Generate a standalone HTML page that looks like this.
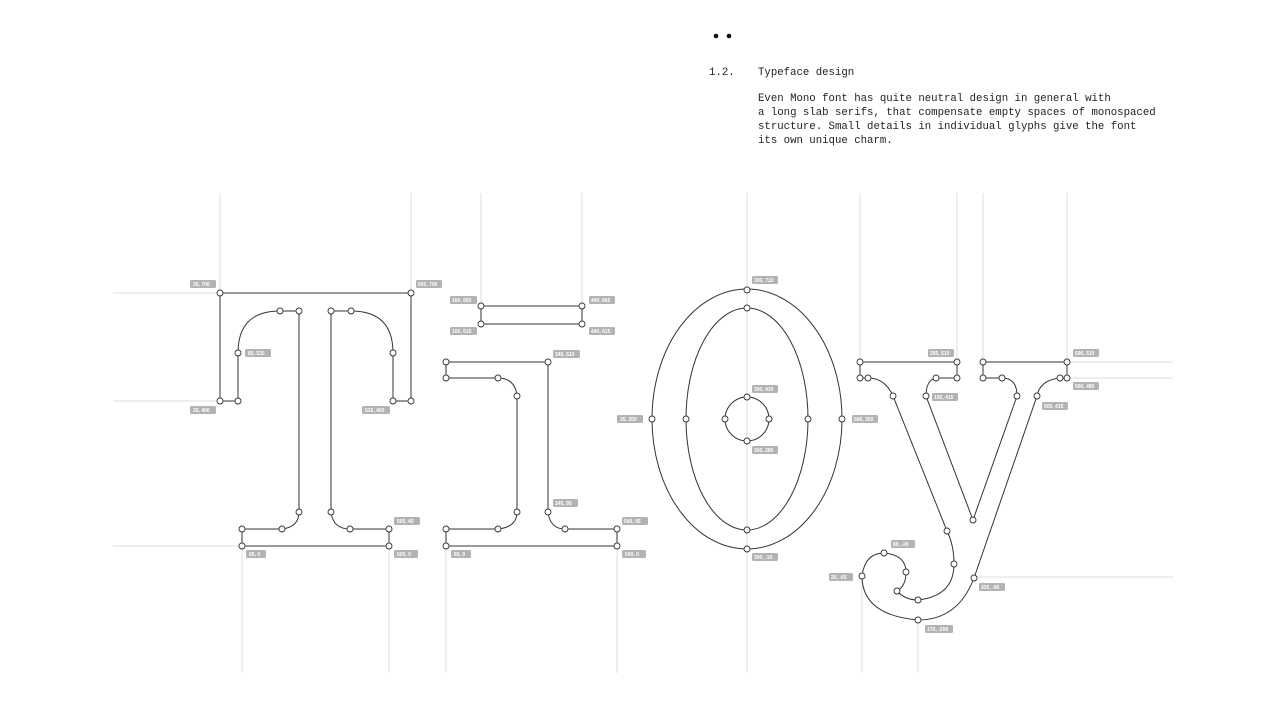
<!DOCTYPE html>
<html><head><meta charset="utf-8"><style>
html,body{margin:0;padding:0;background:#fff;width:1280px;height:720px;overflow:hidden}
svg{position:absolute;left:0;top:0}
.t{font-family:"Liberation Mono",monospace;font-size:10.7px;fill:#222}
.lb{font-family:"Liberation Sans",sans-serif;font-size:5px;fill:#fff;font-weight:bold}
</style></head><body>
<svg width="1280" height="720" viewBox="0 0 1280 720">
<circle cx="716" cy="36" r="2.3" fill="#111"/><circle cx="729" cy="36" r="2.3" fill="#111"/>
<text class="t" x="709" y="75">1.2.</text>
<text class="t" x="758" y="75">Typeface design</text>
<text class="t" x="758" y="101">Even Mono font has quite neutral design in general with</text>
<text class="t" x="758" y="115">a long slab serifs, that compensate empty spaces of monospaced</text>
<text class="t" x="758" y="129">structure. Small details in individual glyphs give the font</text>
<text class="t" x="758" y="143">its own unique charm.</text>

<g stroke="#dcdcdc" stroke-width="1">
<line x1="220" y1="193" x2="220" y2="293"/><line x1="411" y1="193" x2="411" y2="293"/>
<line x1="481" y1="193" x2="481" y2="306"/><line x1="582" y1="193" x2="582" y2="306"/>
<line x1="747" y1="193" x2="747" y2="673"/>
<line x1="860" y1="193" x2="860" y2="362"/><line x1="957" y1="193" x2="957" y2="362"/>
<line x1="983" y1="193" x2="983" y2="362"/><line x1="1067" y1="193" x2="1067" y2="362"/>
<line x1="242" y1="546" x2="242" y2="673"/><line x1="389" y1="546" x2="389" y2="673"/>
<line x1="446" y1="546" x2="446" y2="673"/><line x1="617" y1="546" x2="617" y2="673"/>
<line x1="862" y1="576" x2="862" y2="673"/><line x1="918" y1="620" x2="918" y2="673"/>
<line x1="113" y1="293" x2="220" y2="293"/><line x1="113" y1="401" x2="220" y2="401"/>
<line x1="113" y1="546" x2="242" y2="546"/>
<line x1="1067" y1="362" x2="1173" y2="362"/><line x1="1067" y1="378" x2="1173" y2="378"/>
<line x1="974" y1="577" x2="1173" y2="577"/>
</g>

<g fill="none" stroke="#333" stroke-width="1">
<path d="M220 293 L411 293 L411 401 L393 401 L393 353 Q393 311 351 311 L331 311 L331 512 Q333 529 350 529 L389 529 L389 546 L242 546 L242 529 L282 529 Q299 527 299 512 L299 311 L280 311 Q238 311 238 353 L238 401 L220 401 Z"/>
<rect x="481" y="306" width="101" height="18"/>
<path d="M446 362 L548 362 L548 512 Q550 529 565 529 L617 529 L617 546 L446 546 L446 529 L498 529 Q517 527 517 512 L517 396 Q515 378 498 378 L446 378 Z"/>
<ellipse cx="747" cy="419" rx="95" ry="130"/>
<ellipse cx="747" cy="419" rx="61" ry="111"/>
<circle cx="747" cy="419" r="22"/>
<path d="M860 362 L957 362 L957 378 L936 378 Q926 380 926 396 L973 520 L1017 396 Q1017 378 1002 378 L983 378 L983 362 L1067 362 L1067 378 L1060 378 Q1040 380 1037 396 L974 578 Q958 620 918 620 Q862 615 862 576 Q865 553 884 553 Q906 555 906 572 Q906 586 897 591 Q905 600 918 600 Q954 596 954 564 Q954 545 947 531 L893 396 Q885 378 868 378 L860 378 Z"/>
</g>

<g fill="#fff" stroke="#333" stroke-width="0.9">
<circle cx="220" cy="293" r="3"/><circle cx="411" cy="293" r="3"/><circle cx="280" cy="311" r="3"/><circle cx="299" cy="311" r="3"/><circle cx="331" cy="311" r="3"/><circle cx="351" cy="311" r="3"/><circle cx="238" cy="353" r="3"/><circle cx="393" cy="353" r="3"/><circle cx="220" cy="401" r="3"/><circle cx="238" cy="401" r="3"/><circle cx="393" cy="401" r="3"/><circle cx="411" cy="401" r="3"/><circle cx="299" cy="512" r="3"/><circle cx="282" cy="529" r="3"/><circle cx="242" cy="529" r="3"/><circle cx="242" cy="546" r="3"/><circle cx="389" cy="529" r="3"/><circle cx="389" cy="546" r="3"/><circle cx="331" cy="512" r="3"/><circle cx="350" cy="529" r="3"/>
<circle cx="481" cy="306" r="3"/><circle cx="582" cy="306" r="3"/><circle cx="481" cy="324" r="3"/><circle cx="582" cy="324" r="3"/>
<circle cx="446" cy="362" r="3"/><circle cx="548" cy="362" r="3"/><circle cx="446" cy="378" r="3"/><circle cx="498" cy="378" r="3"/><circle cx="517" cy="396" r="3"/><circle cx="517" cy="512" r="3"/><circle cx="498" cy="529" r="3"/><circle cx="446" cy="529" r="3"/><circle cx="446" cy="546" r="3"/><circle cx="548" cy="512" r="3"/><circle cx="565" cy="529" r="3"/><circle cx="617" cy="529" r="3"/><circle cx="617" cy="546" r="3"/>
<circle cx="747" cy="290" r="3"/><circle cx="747" cy="549" r="3"/><circle cx="652" cy="419" r="3"/><circle cx="842" cy="419" r="3"/><circle cx="747" cy="308" r="3"/><circle cx="747" cy="530" r="3"/><circle cx="686" cy="419" r="3"/><circle cx="808" cy="419" r="3"/><circle cx="747" cy="397" r="3"/><circle cx="747" cy="441" r="3"/><circle cx="725" cy="419" r="3"/><circle cx="769" cy="419" r="3"/>
<circle cx="860" cy="362" r="3"/><circle cx="957" cy="362" r="3"/><circle cx="957" cy="378" r="3"/><circle cx="936" cy="378" r="3"/><circle cx="926" cy="396" r="3"/><circle cx="973" cy="520" r="3"/><circle cx="1017" cy="396" r="3"/><circle cx="1002" cy="378" r="3"/><circle cx="983" cy="378" r="3"/><circle cx="983" cy="362" r="3"/><circle cx="1067" cy="362" r="3"/><circle cx="1067" cy="378" r="3"/><circle cx="1060" cy="378" r="3"/><circle cx="1037" cy="396" r="3"/><circle cx="974" cy="578" r="3"/><circle cx="918" cy="620" r="3"/><circle cx="862" cy="576" r="3"/><circle cx="884" cy="553" r="3"/><circle cx="906" cy="572" r="3"/><circle cx="897" cy="591" r="3"/><circle cx="918" cy="600" r="3"/><circle cx="954" cy="564" r="3"/><circle cx="947" cy="531" r="3"/><circle cx="893" cy="396" r="3"/><circle cx="868" cy="378" r="3"/><circle cx="860" cy="378" r="3"/>
</g>

<g>
<g fill="#b3b3b3">
<rect x="190" y="280" width="26" height="8" rx="1.5"/><rect x="416" y="280" width="26" height="8" rx="1.5"/>
<rect x="245" y="349" width="26" height="8" rx="1.5"/><rect x="190" y="406" width="26" height="8" rx="1.5"/>
<rect x="362" y="406" width="28" height="8" rx="1.5"/><rect x="394" y="517" width="26" height="8" rx="1.5"/>
<rect x="246" y="550" width="20" height="8" rx="1.5"/><rect x="394" y="550" width="24" height="8" rx="1.5"/>
<rect x="450" y="296" width="27" height="8" rx="1.5"/><rect x="589" y="296" width="26" height="8" rx="1.5"/>
<rect x="450" y="327" width="27" height="8" rx="1.5"/><rect x="589" y="327" width="26" height="8" rx="1.5"/>
<rect x="553" y="350" width="27" height="8" rx="1.5"/><rect x="553" y="499" width="25" height="8" rx="1.5"/>
<rect x="622" y="517" width="26" height="8" rx="1.5"/><rect x="451" y="550" width="20" height="8" rx="1.5"/>
<rect x="622" y="550" width="24" height="8" rx="1.5"/>
<rect x="752" y="276" width="26" height="8" rx="1.5"/><rect x="617" y="415" width="26" height="8" rx="1.5"/>
<rect x="852" y="415" width="26" height="8" rx="1.5"/><rect x="752" y="385" width="26" height="8" rx="1.5"/>
<rect x="752" y="446" width="26" height="8" rx="1.5"/><rect x="752" y="553" width="26" height="8" rx="1.5"/>
<rect x="928" y="349" width="26" height="8" rx="1.5"/><rect x="1073" y="349" width="26" height="8" rx="1.5"/>
<rect x="1073" y="382" width="26" height="8" rx="1.5"/><rect x="932" y="393" width="26" height="8" rx="1.5"/>
<rect x="1042" y="402" width="26" height="8" rx="1.5"/><rect x="891" y="540" width="24" height="8" rx="1.5"/>
<rect x="829" y="573" width="24" height="8" rx="1.5"/><rect x="979" y="583" width="26" height="8" rx="1.5"/>
<rect x="925" y="625" width="28" height="8" rx="1.5"/>
</g>
<g class="lb">
<text x="193" y="286">35, 700</text><text x="418" y="286">565, 700</text>
<text x="248" y="355">85, 535</text><text x="193" y="412">35, 400</text>
<text x="365" y="412">515, 400</text><text x="397" y="523">505, 45</text>
<text x="249" y="556">85, 0</text><text x="397" y="556">505, 0</text>
<text x="452" y="302">160, 665</text><text x="591" y="302">440, 665</text>
<text x="452" y="333">160, 615</text><text x="591" y="333">440, 615</text>
<text x="555" y="356">345, 510</text><text x="555" y="505">345, 95</text>
<text x="624" y="523">540, 45</text><text x="454" y="556">65, 0</text>
<text x="625" y="556">540, 0</text>
<text x="754" y="282">300, 710</text><text x="620" y="421">35, 350</text>
<text x="854" y="421">565, 350</text><text x="754" y="391">300, 410</text>
<text x="754" y="452">300, 280</text><text x="754" y="559">300, -10</text>
<text x="930" y="355">285, 510</text><text x="1075" y="355">590, 510</text>
<text x="1075" y="388">590, 485</text><text x="934" y="399">195, 415</text>
<text x="1044" y="408">505, 415</text><text x="893" y="546">80, -20</text>
<text x="831" y="579">20, -65</text><text x="981" y="589">330, -90</text>
<text x="927" y="631">170, -209</text>
</g>
</g>
</svg>
</body></html>
